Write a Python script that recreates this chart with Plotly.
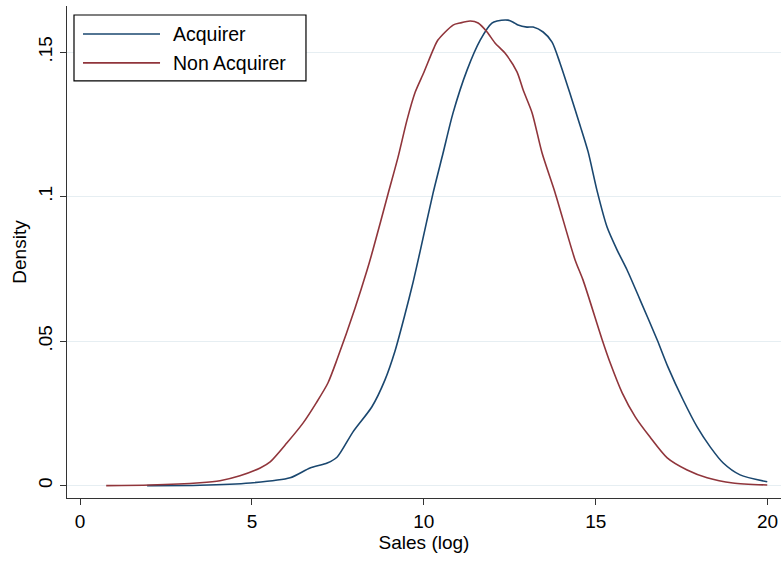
import plotly.graph_objects as go

# ---- data ----
acq_x = [1.95, 3.49, 4.95, 6.11, 6.69, 7.19, 7.48, 7.94, 8.49, 8.87, 9.16, 9.45, 9.69, 9.89,
         10.27, 10.56, 10.85, 11.26, 11.64, 11.98, 12.13, 12.45, 12.60, 12.74, 13.00, 13.18,
         13.47, 13.73, 13.96, 14.25, 14.55, 14.78, 15.04, 15.33, 15.62, 15.91, 16.29, 16.79,
         17.10, 17.54, 17.95, 18.33, 18.71, 19.20, 19.99]
acq_y = [0.0000, 0.0001, 0.0009, 0.0027, 0.0061, 0.0078, 0.0099, 0.0186, 0.0273, 0.0366,
         0.0465, 0.0592, 0.0705, 0.0810, 0.1013, 0.1151, 0.1290, 0.1439, 0.1542, 0.1601,
         0.1608, 0.1611, 0.1604, 0.1594, 0.1587, 0.1587, 0.1570, 0.1535, 0.1463, 0.1358,
         0.1245, 0.1155, 0.1020, 0.0895, 0.0816, 0.0747, 0.0643, 0.0504, 0.0411, 0.0297,
         0.0203, 0.0134, 0.0078, 0.0037, 0.0013]

non_x = [0.76, 2.04, 3.49, 4.07, 4.65, 5.24, 5.53, 6.02, 6.49, 6.88, 7.21, 7.48, 8.00, 8.35,
         8.52, 8.96, 9.25, 9.51, 9.75, 10.00, 10.27, 10.41, 10.85, 11.05, 11.35, 11.58, 11.84,
         12.07, 12.36, 12.71, 12.89, 13.15, 13.44, 13.82, 14.40, 14.63, 15.19, 15.42, 15.77,
         16.15, 16.58, 17.08, 17.66, 18.24, 18.99, 19.99]
non_y = [0.0000, 0.0002, 0.0010, 0.0017, 0.0034, 0.0061, 0.0082, 0.0148, 0.0217, 0.0288,
         0.0355, 0.0438, 0.0615, 0.0746, 0.0816, 0.1010, 0.1137, 0.1265, 0.1362, 0.1430,
         0.1508, 0.1542, 0.1594, 0.1601, 0.1608, 0.1601, 0.1570, 0.1532, 0.1497, 0.1432,
         0.1369, 0.1290, 0.1151, 0.1013, 0.0781, 0.0712, 0.0504, 0.0425, 0.0321, 0.0238,
         0.0168, 0.0096, 0.0054, 0.0027, 0.0009, 0.0002]

series_names = ["Acquirer", "Non Acquirer"]
colors = ["#1a476f", "#90353b"]

x_ticks = [0, 5, 10, 15, 20]
x_ticklabels = ["0", "5", "10", "15", "20"]
y_ticks = [0, 0.05, 0.10, 0.15]
y_ticklabels = ["0", ".05", ".1", ".15"]

FONT = "Liberation Sans, Arial, Helvetica, sans-serif"

fig = go.Figure()
for name, xs, ys, c in [(series_names[0], acq_x, acq_y, colors[0]),
                        (series_names[1], non_x, non_y, colors[1])]:
    fig.add_trace(go.Scatter(x=xs, y=ys, mode="lines", name=name, showlegend=False,
                             line=dict(color=c, width=1.6, shape="spline", smoothing=0.7)))

# custom legend (box, line samples, labels)
shapes = [dict(type="rect", xref="paper", yref="paper", x0=0.0098, x1=0.3347,
               y0=0.8479, y1=0.9817, line=dict(color="#000000", width=1.2),
               fillcolor="white", layer="above")]
annotations = []
for i, (name, c) in enumerate(zip(series_names, colors)):
    yy = [0.9432, 0.8844][i]
    shapes.append(dict(type="line", xref="paper", yref="paper", x0=0.0224, x1=0.1303,
                       y0=yy, y1=yy, line=dict(color=c, width=1.6), layer="above"))
    annotations.append(dict(xref="paper", yref="paper", x=0.1457, y=yy, text=name,
                            showarrow=False, xanchor="left", yanchor="middle",
                            font=dict(family=FONT, size=19.5, color="#000000")))

fig.update_layout(
    width=784, height=563,
    margin=dict(l=67, r=3, t=6, b=65),
    paper_bgcolor="white", plot_bgcolor="white",
    font=dict(family=FONT, size=19, color="#000000"),
    shapes=shapes, annotations=annotations,
    xaxis=dict(range=[-0.38, 20.39], tickvals=x_ticks, ticktext=x_ticklabels,
               showgrid=False, zeroline=False, showline=True, linecolor="#333333",
               linewidth=1.3, ticks="outside", ticklen=6, tickwidth=1.3, tickcolor="#333333",
               tickfont=dict(size=19),
               title=dict(text="Sales (log)", font=dict(size=19), standoff=4)),
    yaxis=dict(range=[-0.0043, 0.166], tickvals=y_ticks, ticktext=y_ticklabels,
               showgrid=True, gridcolor="#e6eef2", gridwidth=1.2, zeroline=False,
               showline=True, linecolor="#333333", linewidth=1.3, ticks="outside",
               ticklen=6, tickwidth=1.3, tickcolor="#333333", tickangle=-90,
               tickfont=dict(size=19),
               title=dict(text="Density", font=dict(size=19), standoff=3)),
)

fig.write_html("out.html")
